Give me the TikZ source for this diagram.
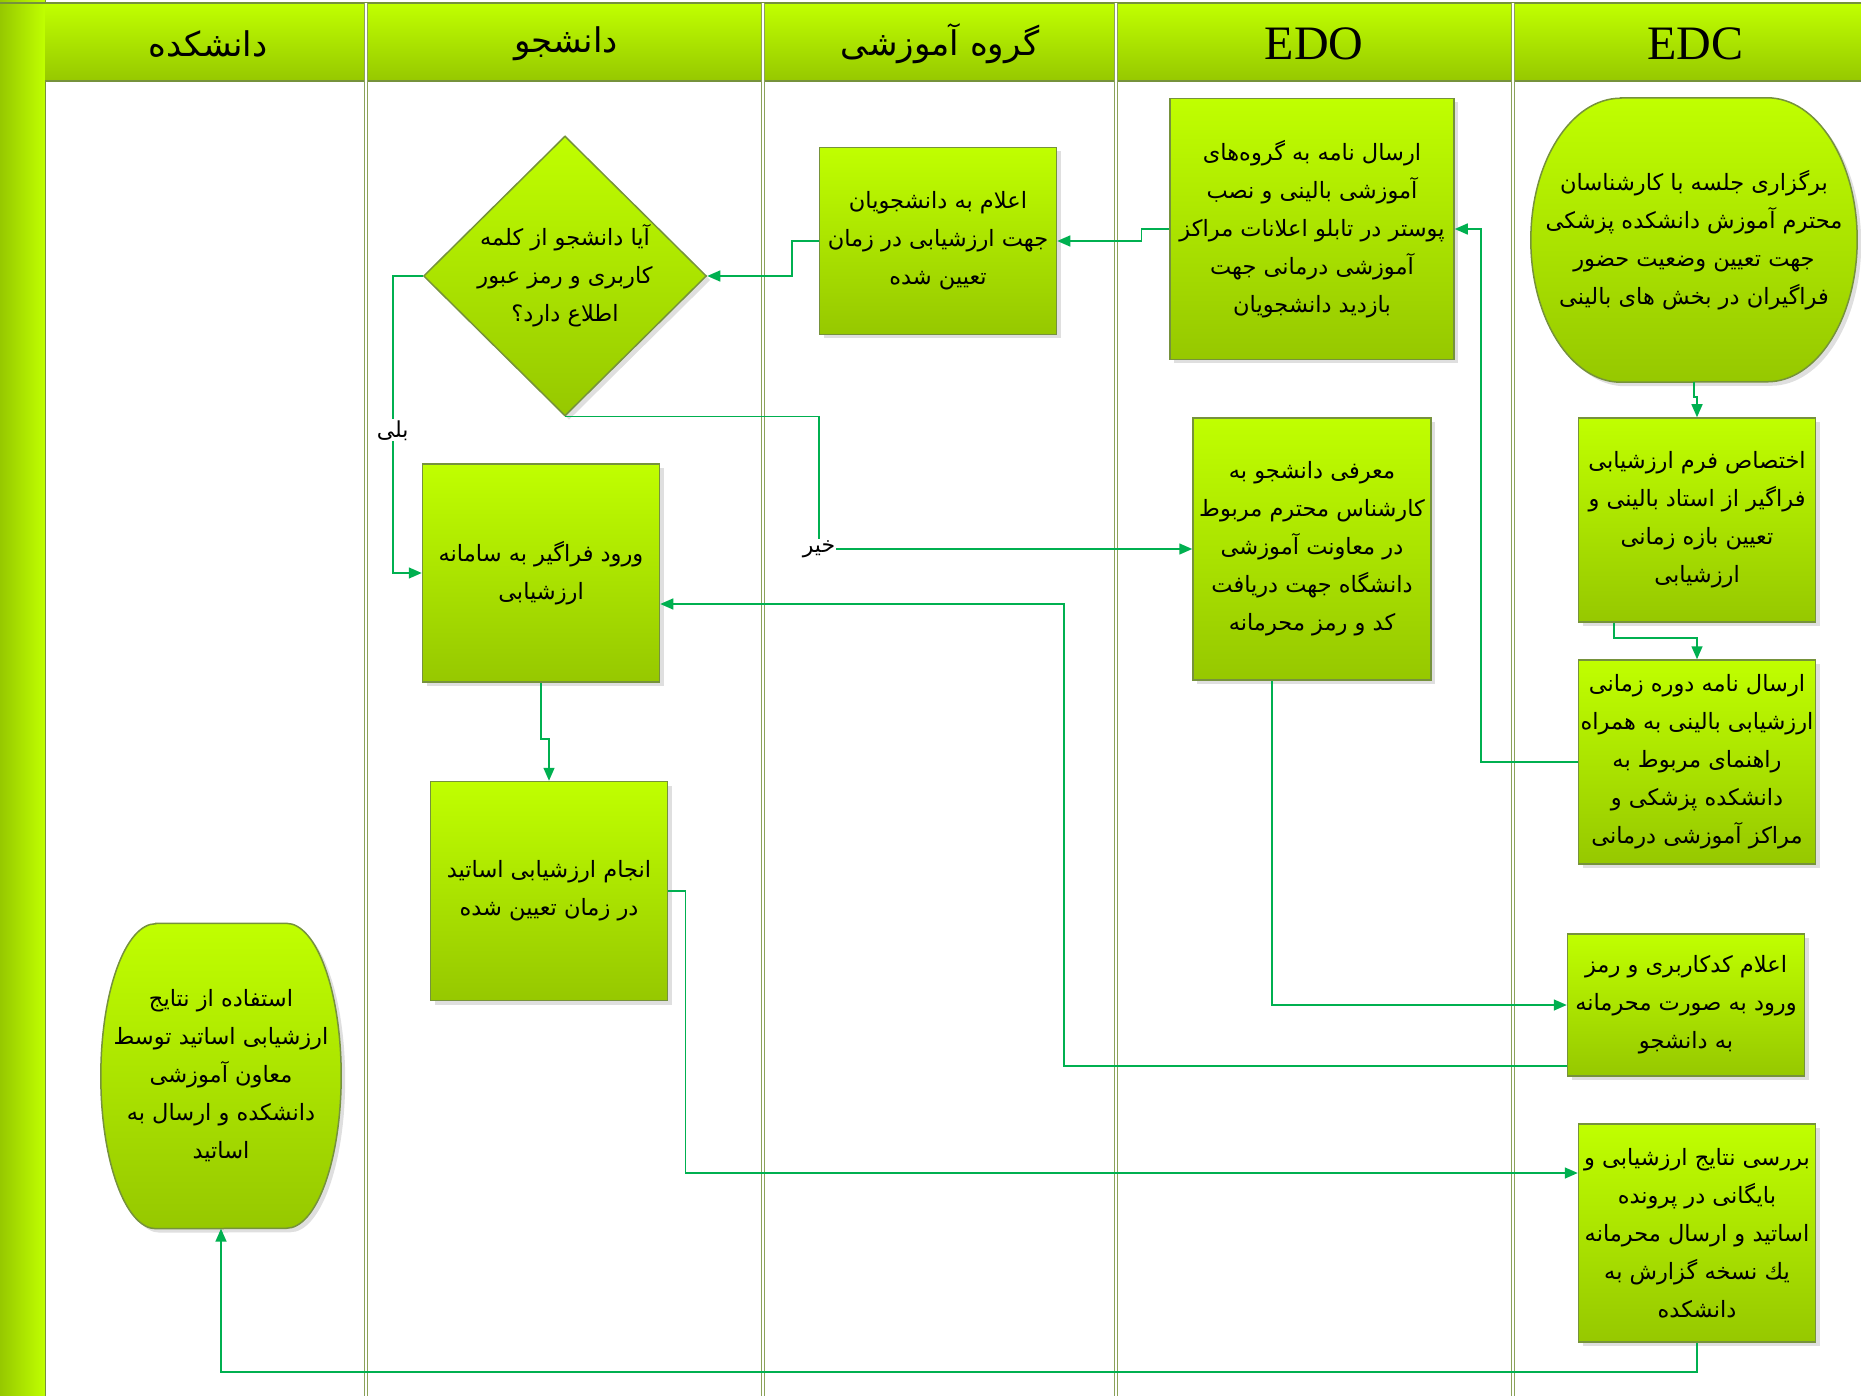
\documentclass[tikz,border=0pt]{standalone}
\usepackage{fontspec}
\setmainfont{Liberation Serif}
\newfontfamily\fafont[Script=Arabic]{DejaVu Sans}
\TeXXeTstate=1
\usetikzlibrary{shapes.geometric}
\usetikzlibrary{arrows.meta}
\usetikzlibrary{calc}
\usetikzlibrary{shadows, backgrounds}
\definecolor{limeT}{RGB}{192,255,0}
\definecolor{limeB}{RGB}{150,200,0}
\definecolor{boxline}{RGB}{118,146,60}
\definecolor{flowgreen}{RGB}{0,176,80}
\newcommand{\fa}[1]{\beginR #1\endR}

\begin{document}
\begin{tikzpicture}[x=1pt, y=-1pt,
    fill lime/.style={top color=limeT, bottom color=limeB,
        drop shadow={opacity=0.25, shadow xshift=4pt, shadow yshift=-4pt}},
    box/.style={fill lime, draw=boxline, line width=1.5pt, minimum width=237pt,
        align=center, inner sep=2pt, font=\fafont\fontsize{22.5}{38}\selectfont},
    decision/.style={box, shape=diamond, minimum width=283pt, minimum height=280pt, inner sep=-14pt},
    barrel/.style={align=center, inner sep=2pt, font=\fafont\fontsize{22.5}{38}\selectfont},
    hdr/.style={font=\fafont\fontsize{34}{40}\selectfont},
    hdrlat/.style={font=\fontsize{48}{50}\selectfont},
    lane/.style={draw=boxline!85, line width=0.8pt, double=white, double distance=2pt},
    flow/.style={draw=flowgreen, line width=1.5pt, -{Triangle[length=13pt, width=11pt]}},
    lbl/.style={fill=white, inner sep=1pt, font=\fafont\fontsize{22}{24}\selectfont}]

    \useasboundingbox (0,0) rectangle (1861,1396);

    % Left bar and header band
    \shade[left color=limeB, right color=limeT] (0,0) rectangle (45,1396);
    \draw[boxline, line width=1pt] (45,0) -- (45,1396);
    \shade[top color=limeT, bottom color=limeB] (45,4) rectangle (1861,81);
    \draw[boxline, line width=1.5pt] (0,3) -- (1861,3) (45,81) -- (1861,81);

    % Lanes
    \foreach \x in {366,763,1116,1513}
        \draw[lane] (\x,3) -- (\x,1396);

    \node[hdr] (hFac) at (208,44) {\fa{دانشکده}};
    \node[hdr] (hStu) at (566,44) {\fa{دانشجو}};
    \node[hdr] (hGrp) at (940,44) {\fa{گروه آموزشی}};
    \node[hdrlat] (hEDO) at (1314,44) {EDO};
    \node[hdrlat] (hEDC) at (1695,44) {EDC};

    % EDC
    \node[barrel, minimum width=326pt, minimum height=284pt] (N1) at (1694,240)
        {\fa{برگزاری جلسه با کارشناسان}\\\fa{محترم آموزش دانشکده پزشکی}\\\fa{جهت تعیین وضعیت حضور}\\\fa{فراگیران در بخش های بالینی}};
    \node[box, minimum height=204pt] (N2) at (1697,520)
        {\fa{اختصاص فرم ارزشیابی}\\\fa{فراگیر از استاد بالینی و}\\\fa{تعیین بازه زمانی}\\\fa{ارزشیابی}};
    \node[box, minimum height=204pt] (N3) at (1697,762)
        {\fa{ارسال نامه دوره زمانی}\\\fa{ارزشیابی بالینی به همراه}\\\fa{راهنمای مربوط به}\\\fa{دانشکده پزشکی و}\\\fa{مراکز آموزشی درمانی}};
    \node[box, minimum height=142pt] (N4) at (1686,1005)
        {\fa{اعلام  کدکاربری و رمز}\\\fa{ورود به صورت محرمانه}\\\fa{به دانشجو}};
    \node[box, minimum height=218pt] (N5) at (1697,1233)
        {\fa{بررسی نتایج ارزشیابی و}\\\fa{بایگانی در پرونده}\\\fa{اساتید و ارسال محرمانه}\\\fa{یك نسخه گزارش به}\\\fa{دانشکده}};

    % EDO
    \node[box, minimum width=284pt, minimum height=261pt] (N6) at (1312,229)
        {\fa{ارسال نامه به گروه‌های}\\\fa{آموزشی بالینی و نصب}\\\fa{پوستر در تابلو اعلانات مراکز}\\\fa{آموزشی درمانی جهت}\\\fa{بازدید دانشجویان}};
    \node[box, minimum width=238pt, minimum height=262pt] (N7) at (1312,549)
        {\fa{معرفی دانشجو به}\\\fa{کارشناس محترم مربوط}\\\fa{در معاونت آموزشی}\\\fa{دانشگاه جهت دریافت}\\\fa{کد و رمز محرمانه}};

    % Group
    \node[box, minimum height=187pt] (N8) at (938,241)
        {\fa{اعلام به دانشجویان}\\\fa{جهت ارزشیابی در زمان}\\\fa{تعیین شده}};

    % Student
    \node[decision] (N9) at (565,276)
        {\fa{آیا دانشجو از کلمه}\\\fa{کاربری و رمز عبور}\\\fa{اطلاع دارد؟}};
    \node[box, minimum height=218pt] (N10) at (541,573)
        {\fa{ورود فراگیر به سامانه}\\\fa{ارزشیابی}};
    \node[box, minimum height=219pt] (N11) at (549,891)
        {\fa{انجام ارزشیابی اساتید}\\\fa{در زمان تعیین شده}};

    % Faculty
    \node[barrel, minimum width=240pt, minimum height=305pt] (N12) at (221,1076)
        {\fa{استفاده از نتایج}\\\fa{ارزشیابی اساتید توسط}\\\fa{معاون آموزشی}\\\fa{دانشکده و ارسال به}\\\fa{اساتید}};

    % Barrel outlines behind the texts
    \begin{scope}[on background layer]
        \foreach \n/\rx/\ry in {N1/90/142, N12/55/152.5}
            \shade[fill lime, draw=boxline, line width=1.5pt]
                ($(\n.north west)+(\rx,0)$) -- ($(\n.north east)+(-\rx,0)$)
                arc[start angle=90, end angle=-90, x radius=\rx pt, y radius=\ry pt]
                -- ($(\n.south west)+(\rx,0)$)
                arc[start angle=270, end angle=90, x radius=\rx pt, y radius=\ry pt] -- cycle;
    \end{scope}

    % Flow
    \draw[flow] (N1.south) -- ++(0,15) -| (N2.north);
    \draw[flow] ([xshift=-83pt]N2.south) -- ++(0,15) -| (N3.north);
    \draw[flow] (N3.west) -- ++(-97,0) |- (N6.east);
    \draw[flow] (N6.west) -- ++(-28,0) |- (N8.east);
    \draw[flow] (N8.west) -- ++(-27,0) |- (N9.east);
    \draw[flow] (N9.west) -- ++(-30,0) |- node[pos=0.26, lbl] {\fa{بلی}} (N10.west);
    \draw[flow] (N9.south) -- ++(254,0) |- node[pos=0.5, lbl] {\fa{خیر}} (N7.west);
    \draw[flow] ([xshift=-40pt]N7.south) |- (N4.west);
    \draw[flow] ([yshift=-61pt]N4.west) -- ++(-503,0) |- ([yshift=-31pt]N10.east);
    \draw[flow] (N10.south) -- ++(0,56) -| (N11.north);
    \draw[flow] (N11.east) -- ++(17,0) |- ([yshift=60pt]N5.west);
    \draw[flow] (N5.south) -- ++(0,29) -| (N12.south);

\end{tikzpicture}
\end{document}
